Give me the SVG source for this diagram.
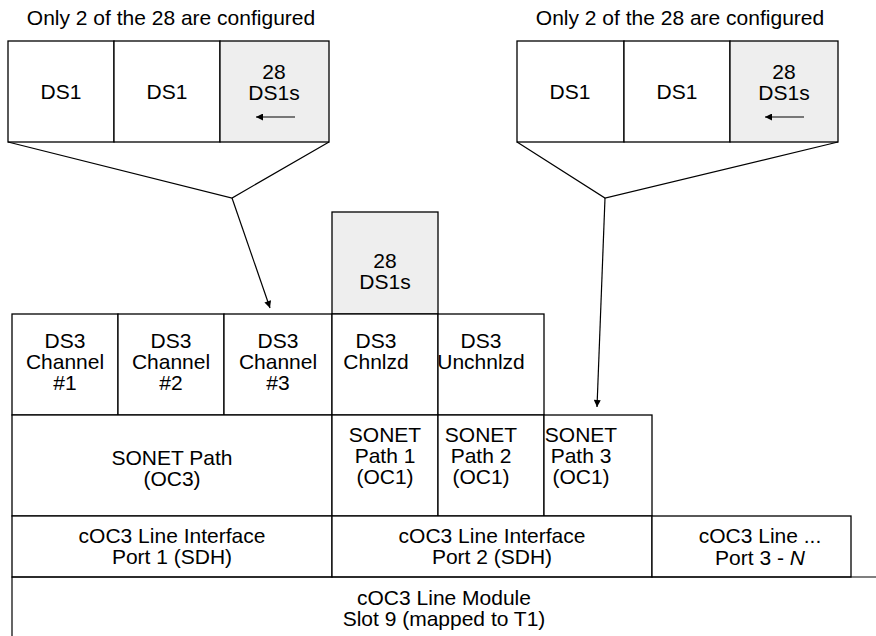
<svg xmlns="http://www.w3.org/2000/svg" width="876" height="636" viewBox="0 0 876 636">
<style>
  .c { fill: #ffffff; stroke: #000; stroke-width: 1.3; }
  .g { fill: #eeeeee; stroke: #000; stroke-width: 1.3; }
  .l { fill: none; stroke: #000; stroke-width: 1.2; }
  text { font-family: "Liberation Sans", Arial, sans-serif; font-size: 21px; fill: #000; text-anchor: middle; }
</style>
<defs>
  <marker id="ah" viewBox="0 0 10 10" refX="10" refY="5" markerWidth="10" markerHeight="7" markerUnits="userSpaceOnUse" orient="auto">
    <path d="M0,0 L10,5 L0,10 z" fill="#000"/>
  </marker>
</defs>
<rect width="876" height="636" fill="#fff"/>

<g id="title-left"><text x="171" y="25">Only 2 of the 28 are configured</text></g>
<g id="title-right"><text x="680" y="25">Only 2 of the 28 are configured</text></g>

<g id="ds1-l1"><rect class="c" x="8" y="41" width="106" height="101"/><text x="61" y="99">DS1</text></g>
<g id="ds1-l2"><rect class="c" x="114" y="41" width="106" height="101"/><text x="167" y="99">DS1</text></g>
<g id="ds1s-l"><rect class="g" x="220" y="41" width="109" height="101"/><text x="274" y="79">28</text><text x="274" y="100">DS1s</text>
  <line class="l" x1="295" y1="117" x2="256" y2="117" marker-end="url(#ah)"/></g>

<g id="ds1-r1"><rect class="c" x="517" y="41" width="107" height="101"/><text x="570" y="99">DS1</text></g>
<g id="ds1-r2"><rect class="c" x="624" y="41" width="106" height="101"/><text x="677" y="99">DS1</text></g>
<g id="ds1s-r"><rect class="g" x="730" y="41" width="108" height="101"/><text x="784" y="79">28</text><text x="784" y="100">DS1s</text>
  <line class="l" x1="804" y1="117" x2="765" y2="117" marker-end="url(#ah)"/></g>

<g id="ds1s-mid"><rect class="g" x="332" y="212" width="106" height="102"/><text x="385" y="268">28</text><text x="385" y="289">DS1s</text></g>

<g id="ds3-1"><rect class="c" x="12" y="314" width="106" height="101"/><text x="65" y="348">DS3</text><text x="65" y="369">Channel</text><text x="65" y="390">#1</text></g>
<g id="ds3-2"><rect class="c" x="118" y="314" width="106" height="101"/><text x="171" y="348">DS3</text><text x="171" y="369">Channel</text><text x="171" y="390">#2</text></g>
<g id="ds3-3"><rect class="c" x="224" y="314" width="108" height="101"/><text x="278" y="348">DS3</text><text x="278" y="369">Channel</text><text x="278" y="390">#3</text></g>
<g id="ds3-chnlzd"><rect class="c" x="332" y="314" width="106" height="101"/><text x="376" y="348">DS3</text><text x="376" y="369">Chnlzd</text></g>
<g id="ds3-unchnlzd"><rect class="c" x="438" y="314" width="106" height="101"/><text x="481" y="348">DS3</text><text x="481" y="369">Unchnlzd</text></g>

<g id="sonet-oc3"><rect class="c" x="12" y="415" width="320" height="101"/><text x="172" y="465">SONET Path</text><text x="172" y="486">(OC3)</text></g>
<g id="sonet-p1"><rect class="c" x="332" y="415" width="106" height="101"/><text x="385" y="442">SONET</text><text x="385" y="463">Path 1</text><text x="385" y="484">(OC1)</text></g>
<g id="sonet-p2"><rect class="c" x="438" y="415" width="106" height="101"/><text x="481" y="442">SONET</text><text x="481" y="463">Path 2</text><text x="481" y="484">(OC1)</text></g>
<g id="sonet-p3"><rect class="c" x="544" y="415" width="108" height="101"/><text x="581" y="442">SONET</text><text x="581" y="463">Path 3</text><text x="581" y="484">(OC1)</text></g>

<g id="port1"><rect class="c" x="12" y="516" width="320" height="61"/><text x="172" y="543">cOC3 Line Interface</text><text x="172" y="564">Port 1 (SDH)</text></g>
<g id="port2"><rect class="c" x="332" y="516" width="320" height="61"/><text x="492" y="543">cOC3 Line Interface</text><text x="492" y="564">Port 2 (SDH)</text></g>
<g id="port3n"><rect class="c" x="652" y="516" width="199" height="61"/><text x="760" y="543">cOC3 Line ...</text><text x="760" y="565">Port 3 - <tspan font-style="italic">N</tspan></text></g>

<g id="module"><path class="l" d="M12,640 L12,577 L880,577"/><text x="444" y="605">cOC3 Line Module</text><text x="444" y="626">Slot 9 (mapped to T1)</text></g>

<g id="connectors">
  <path class="l" d="M8,142 L232,198 L329,142"/>
  <line class="l" x1="232" y1="198" x2="270" y2="308" marker-end="url(#ah)"/>
  <path class="l" d="M517,142 L605,198 L838,142"/>
  <line class="l" x1="605" y1="198" x2="597" y2="407" marker-end="url(#ah)"/>
</g>
</svg>
